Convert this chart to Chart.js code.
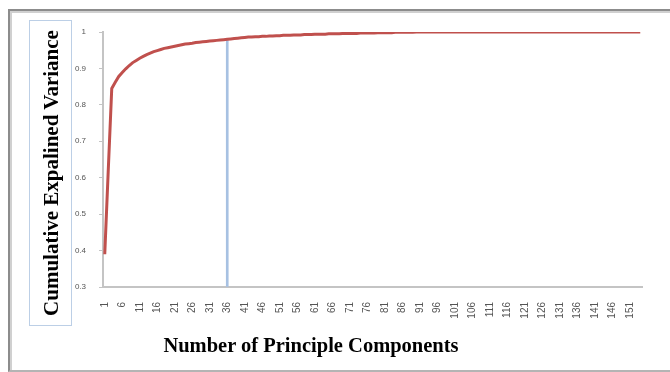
<!DOCTYPE html>
<html>
<head>
<meta charset="utf-8">
<script src="https://cdn.jsdelivr.net/npm/chart.js@4/dist/chart.umd.min.js"></script>
<style>
  html, body { margin: 0; padding: 0; background: #fff; }
  #wrap { position: relative; width: 670px; height: 372px; overflow: hidden; }
  #frame { position: absolute; left: 8px; top: 9px; width: 720px; height: 359px;
           border-left: 2px solid #8c8c8c; border-top: 2px solid #8c8c8c; border-bottom: 2px solid #b4b4b4; }
  #frameInner { position: absolute; left: 0; top: 0; right: 0; bottom: 0;
           border-left: 2px solid #d0d0d0; border-top: 2px solid #d0d0d0; }
  #chart { position: absolute; left: 0; top: 0; }
  #ytitle { position: absolute; left: 29px; top: 20px; width: 43px; height: 306px;
            border: 1px solid #bccfe6; box-sizing: border-box; }
  #ytitle span { position: absolute; left: 52%; top: 50%; white-space: nowrap;
            transform: translate(-50%, -50%) rotate(-90deg);
            font: bold 21px "Liberation Serif", "DejaVu Serif", serif; color: #000; }
  #xtitle { position: absolute; left: 311px; top: 345px; transform: translate(-50%, -50%);
            white-space: nowrap; font: bold 20.5px "Liberation Serif", "DejaVu Serif", serif; color: #000; }
</style>
</head>
<body>
<div id="wrap">
  <div id="frame"><div id="frameInner"></div></div>
  <canvas id="chart" width="670" height="372"></canvas>
  <div id="ytitle"><span>Cumulative Expalined Variance</span></div>
  <div id="xtitle">Number of Principle Components</div>
</div>
<script>
// ---- data ----
const components = Array.from({length: 154}, (_, i) => String(i + 1));
const shownTickLabels = ['1','6','11','16','21','26','31','36','41','46','51','56','61','66','71','76','81','86','91','96','101','106','111','116','121','126','131','136','141','146','151'];
const cumulativeVariance = [
  0.390, 0.620, 0.845, 0.862, 0.878, 0.889, 0.899, 0.908, 0.916, 0.922,
  0.928, 0.933, 0.938, 0.942, 0.946, 0.949, 0.952, 0.955, 0.957, 0.959,
  0.961, 0.963, 0.965, 0.967, 0.968, 0.969, 0.971, 0.972, 0.973, 0.974,
  0.975, 0.976, 0.977, 0.978, 0.979, 0.980, 0.981, 0.982, 0.983, 0.984,
  0.985, 0.986, 0.986, 0.987, 0.987, 0.988, 0.988, 0.989, 0.989, 0.990,
  0.990, 0.991, 0.991, 0.991, 0.992, 0.992, 0.992, 0.993, 0.993, 0.993,
  0.994, 0.994, 0.994, 0.994, 0.995, 0.995, 0.995, 0.995, 0.996, 0.996,
  0.996, 0.996, 0.996, 0.997, 0.997, 0.997, 0.997, 0.997, 0.998, 0.998,
  0.998, 0.998, 0.998, 0.999, 0.999, 0.999, 0.999, 0.999, 0.999, 1.000,
  1.000, 1.000, 1.000, 1.000, 1.000, 1.000, 1.000, 1.000, 1.000, 1.000,
  1.000, 1.000, 1.000, 1.000, 1.000, 1.000, 1.000, 1.000, 1.000, 1.000,
  1.000, 1.000, 1.000, 1.000, 1.000, 1.000, 1.000, 1.000, 1.000, 1.000,
  1.000, 1.000, 1.000, 1.000, 1.000, 1.000, 1.000, 1.000, 1.000, 1.000,
  1.000, 1.000, 1.000, 1.000, 1.000, 1.000, 1.000, 1.000, 1.000, 1.000,
  1.000, 1.000, 1.000, 1.000, 1.000, 1.000, 1.000, 1.000, 1.000, 1.000,
  1.000, 1.000, 1.000, 1.000
];
const selectedComponent = '36';
const selectedValue = 0.980;
const yTickValues = [0.3, 0.4, 0.5, 0.6, 0.7, 0.8, 0.9, 1];

const markerData = components.map(c => c === selectedComponent ? selectedValue : null);

new Chart(document.getElementById('chart'), {
  data: {
    labels: components,
    datasets: [
      {
        type: 'line',
        label: 'Cumulative Explained Variance',
        data: cumulativeVariance,
        borderColor: '#c0504d',
        borderWidth: 3,
        pointRadius: 0,
        tension: 0,
        fill: false,
        order: 1
      },
      {
        type: 'bar',
        label: 'Selected',
        data: markerData,
        backgroundColor: '#a7c1e2',
        barThickness: 2,
        base: yTickValues[0],
        order: 2
      }
    ]
  },
  options: {
    responsive: false,
    animation: false,
    layout: { padding: { left: 0, right: 28, top: 32, bottom: 0 } },
    plugins: { legend: { display: false }, tooltip: { enabled: false } },
    scales: {
      x: {
        type: 'category',
        offset: true,
        afterFit: s => { s.height = 85; },
        grid: { display: false, drawTicks: false },
        border: { display: true, color: '#c4c4c4', width: 2 },
        ticks: {
          autoSkip: false, maxRotation: 90, minRotation: 90, padding: 15,
          color: '#555', font: { family: 'Liberation Sans', size: 10 },
          callback: function(v) { const l = this.getLabelForValue(v); return shownTickLabels.includes(l) ? l : ''; }
        }
      },
      y: {
        min: yTickValues[0], max: yTickValues[yTickValues.length - 1],
        afterFit: s => { s.width = 103; },
        afterBuildTicks: s => { s.ticks = yTickValues.map(v => ({ value: v })); },
        grid: { drawOnChartArea: false, drawTicks: true, tickLength: 4, color: '#c4c4c4' },
        border: { display: true, color: '#c4c4c4', width: 2 },
        ticks: {
          padding: 13, color: '#555', font: { family: 'Liberation Sans', size: 8 },
          callback: v => String(Number(v.toFixed(1)))
        }
      }
    }
  }
});
</script>
</body>
</html>
